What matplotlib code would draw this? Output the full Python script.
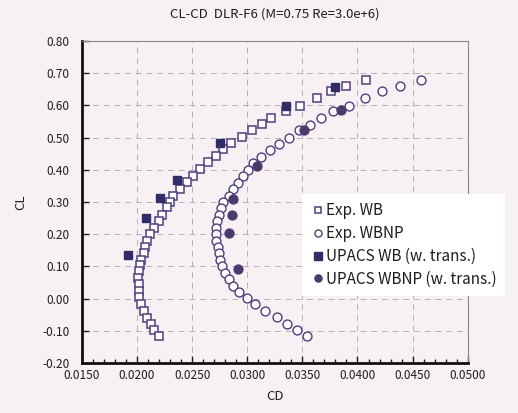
import matplotlib
matplotlib.use('Agg')
import matplotlib.pyplot as plt
from matplotlib.ticker import MultipleLocator

plt.rcParams['font.family'] = ['Noto Sans CJK JP', 'DejaVu Sans']

# -- Exp. WB (open squares) ----------------------------------------------------
exp_wb_cd = [0.04075, 0.0390, 0.0376, 0.0363, 0.0348, 0.0335, 0.0322, 0.0313,
             0.0304, 0.0295, 0.0285, 0.0278, 0.0272, 0.0264, 0.0257, 0.0251,
             0.0245, 0.0239, 0.0233, 0.0230, 0.0227, 0.0223, 0.0220, 0.0215,
             0.0212, 0.0209, 0.0207, 0.0206, 0.0204, 0.0203, 0.0202, 0.0201,
             0.0202, 0.0202, 0.0202, 0.0204, 0.0206, 0.0209, 0.0213, 0.0215,
             0.0220]
exp_wb_cl = [0.680, 0.661, 0.643, 0.622, 0.599, 0.581, 0.562, 0.543,
             0.523, 0.503, 0.482, 0.464, 0.444, 0.423, 0.403, 0.382,
             0.361, 0.341, 0.320, 0.299, 0.283, 0.260, 0.240, 0.220,
             0.200, 0.180, 0.160, 0.140, 0.120, 0.105, 0.085, 0.063,
             0.044, 0.023, 0.004, -0.018, -0.040, -0.060, -0.078, -0.097,
             -0.115]

# -- Exp. WBNP (open circles) --------------------------------------------------
exp_wbnp_cd = [0.04574, 0.04383, 0.0422, 0.04066, 0.0392, 0.03776, 0.03667,
               0.03567, 0.03468, 0.03377, 0.03286, 0.03205, 0.03123, 0.0305,
               0.03005, 0.0296, 0.02914, 0.0287, 0.02833, 0.02778, 0.0276,
               0.02742, 0.02724, 0.0272, 0.0272, 0.0272, 0.02733, 0.02742,
               0.02751, 0.0277, 0.02797, 0.02833, 0.0287, 0.02924, 0.02996,
               0.03069, 0.03159, 0.03268, 0.03359, 0.03449, 0.0354]
exp_wbnp_cl = [0.680, 0.661, 0.643, 0.624, 0.599, 0.581, 0.562,
               0.540, 0.522, 0.500, 0.481, 0.460, 0.441, 0.422,
               0.400, 0.382, 0.360, 0.339, 0.320, 0.301, 0.280,
               0.260, 0.240, 0.220, 0.200, 0.180, 0.160, 0.140,
               0.120, 0.100, 0.080, 0.060, 0.040, 0.020, 0.003,
               -0.018, -0.040, -0.058, -0.078, -0.097, -0.115]

# -- UPACS (filled) ------------------------------------------------------------
upacs_wb_cd = [0.03794, 0.0335, 0.02751, 0.02361, 0.02207, 0.0208, 0.01917]
upacs_wb_cl = [0.658, 0.599, 0.482, 0.367, 0.311, 0.251, 0.136]

upacs_wbnp_cd = [0.03848, 0.03513, 0.03087, 0.0287, 0.0286, 0.02833, 0.02914]
upacs_wbnp_cl = [0.587, 0.524, 0.413, 0.310, 0.261, 0.205, 0.093]

BG = '#f8f1f4'
OPEN_C = '#4b3f86'
SQ_C = '#2e2d68'
CI_C = '#4a3a70'
TXT = '#1e1e1e'

fig = plt.figure(figsize=(5.18, 4.13), dpi=100, facecolor=BG)
ax = fig.add_axes([0.158, 0.121, 0.745, 0.780], facecolor=BG)

ax.plot(exp_wb_cd, exp_wb_cl, ls='none', marker='s', ms=6.2, mfc='white',
        mec=OPEN_C, mew=1.1, label='Exp. WB', zorder=3)
ax.plot(exp_wbnp_cd, exp_wbnp_cl, ls='none', marker='o', ms=6.4, mfc='white',
        mec=OPEN_C, mew=1.0, label='Exp. WBNP', zorder=3)
ax.plot(upacs_wb_cd, upacs_wb_cl, ls='none', marker='s', ms=6.4, mfc=SQ_C,
        mec=SQ_C, label='UPACS WB (w. trans.)', zorder=4)
ax.plot(upacs_wbnp_cd, upacs_wbnp_cl, ls='none', marker='o', ms=6.4, mfc=CI_C,
        mec=CI_C, label='UPACS WBNP (w. trans.)', zorder=4)

ax.set_xlim(0.015, 0.050)
ax.set_ylim(-0.20, 0.80)
ax.xaxis.set_major_locator(MultipleLocator(0.005))
ax.xaxis.set_minor_locator(MultipleLocator(0.001))
ax.yaxis.set_major_locator(MultipleLocator(0.1))
ax.xaxis.set_major_formatter(plt.FormatStrFormatter('%.4f'))
ax.yaxis.set_major_formatter(plt.FormatStrFormatter('%.2f'))

ax.grid(True, which='major', color='#b8b2b8', ls=(0, (6, 5)), lw=0.7)
ax.tick_params(axis='both', which='both', direction='in', labelsize=8.5,
               colors=TXT)
ax.tick_params(axis='x', which='major', length=5, width=1, pad=4)
ax.tick_params(axis='x', which='minor', length=3, width=1)
ax.tick_params(axis='y', which='major', length=5, width=1, pad=9)

for s in ('left', 'bottom'):
    ax.spines[s].set_linewidth(2.0)
    ax.spines[s].set_color('#111111')
for s in ('top', 'right'):
    ax.spines[s].set_linewidth(0.8)
    ax.spines[s].set_color('#8a868a')

ax.set_title('CL-CD  DLR-F6 (M=0.75 Re=3.0e+6)', fontsize=9.5, pad=17,
             color=TXT)
ax.set_xlabel('CD', fontsize=9.5, color=TXT, labelpad=6)
ax.set_ylabel('CL', fontsize=9.5, color=TXT, labelpad=11)

leg = ax.legend(loc='center left', bbox_to_anchor=(0.55, 0.366), frameon=True,
                fontsize=11, handletextpad=0.05, handlelength=1.0,
                borderpad=0.55, labelspacing=0.38, markerscale=0.8)
leg.get_frame().set_facecolor('white')
leg.get_frame().set_edgecolor('none')
leg.get_frame().set_alpha(1.0)
leg.get_frame().set_boxstyle('square', pad=0.0)
leg.set_zorder(5)
for t in leg.get_texts():
    t.set_color(TXT)

fig.savefig('out.png', dpi=100, facecolor=BG)
